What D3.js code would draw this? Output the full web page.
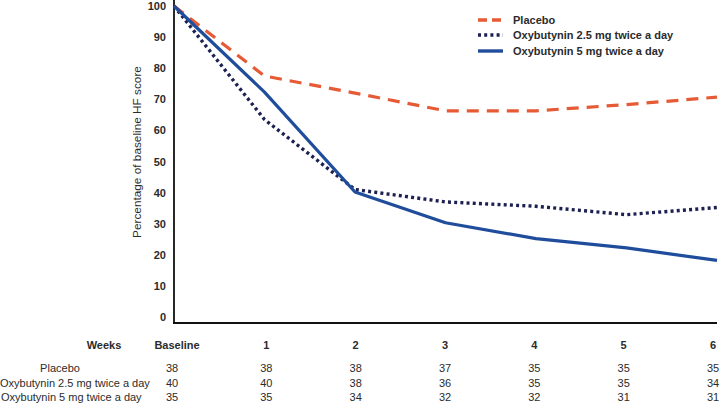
<!DOCTYPE html>
<html>
<head>
<meta charset="utf-8">
<script src="https://cdn.jsdelivr.net/npm/d3@7"></script>
<style>
  html, body { margin: 0; padding: 0; background: #fff; }
  svg { display: block; font-family: "Liberation Sans", Arial, sans-serif; }
</style>
</head>
<body>
<svg id="chart" width="720" height="403"></svg>
<script>
// ---- data ----
const weeks = ["Baseline", "1", "2", "3", "4", "5", "6"];
const seriesNames = ["Placebo", "Oxybutynin 2.5 mg twice a day", "Oxybutynin 5 mg twice a day"];
const placebo = [100, 77.5, 72, 66.3, 66.3, 68.3, 70.7];
const oxy25 = [100, 63.5, 41, 37, 35.6, 32.9, 35.2];
const oxy5 = [100, 72.3, 40.2, 30.3, 25.2, 22.2, 18.2];
const yTicks = [0, 10, 20, 30, 40, 50, 60, 70, 80, 90, 100];
const nPlacebo = [38, 38, 38, 37, 35, 35, 35];
const nOxy25 = [40, 40, 38, 36, 35, 35, 34];
const nOxy5 = [35, 35, 34, 32, 32, 31, 31];

// ---- drawing ----
const svg = d3.select("#chart");
const textColor = "#2b2b2b";
const colors = ["#e65b35", "#1d2152", "#1f4d9b"];
const dashes = ["12,8", "3,3.2", null];

const x = d3.scalePoint().domain(weeks).range([174, 717]);
const y = d3.scaleLinear().domain([0, 100]).range([317, 6]);

// y axis ticks
const yAxis = d3.axisLeft(y).tickValues(yTicks).tickSize(0).tickPadding(8);
const gy = svg.append("g").attr("transform", "translate(174,0)").call(yAxis);
gy.select(".domain").remove();
gy.selectAll("text")
  .attr("font-size", 11).attr("font-weight", "bold")
  .attr("fill", textColor).attr("font-family", "Liberation Sans, Arial, sans-serif");

// axis lines
svg.append("line").attr("x1", 174).attr("x2", 174).attr("y1", 0).attr("y2", 324)
  .attr("stroke", "#111").attr("stroke-width", 1.8);
svg.append("line").attr("x1", 173).attr("x2", 717).attr("y1", 323).attr("y2", 323)
  .attr("stroke", "#111").attr("stroke-width", 1.8);

// y label
svg.append("text")
  .attr("transform", "translate(141,152) rotate(-90)")
  .attr("text-anchor", "middle")
  .attr("font-size", 11.8).attr("fill", textColor)
  .text("Percentage of baseline HF score");

// lines
const lineGen = d3.line().x((d, i) => x(weeks[i])).y(d => y(d));
const allSeries = [placebo, oxy25, oxy5];
allSeries.forEach((s, k) => {
  svg.append("path")
    .datum(s)
    .attr("d", lineGen)
    .attr("fill", "none")
    .attr("stroke", colors[k])
    .attr("stroke-width", k === 1 ? 3.4 : 3.2)
    .attr("stroke-dasharray", dashes[k])
    .attr("stroke-linejoin", "round");
});

// legend
const legY = [20, 35, 51];
seriesNames.forEach((name, k) => {
  svg.append("line")
    .attr("x1", 478).attr("x2", 503).attr("y1", legY[k]).attr("y2", legY[k])
    .attr("stroke", colors[k]).attr("stroke-width", 3.4)
    .attr("stroke-dasharray", k === 0 ? "9,5" : dashes[k]);
  svg.append("text")
    .attr("x", 513).attr("y", legY[k]).attr("dy", "0.35em")
    .attr("font-size", 11).attr("font-weight", "bold").attr("fill", textColor)
    .text(name);
});

// table
const tx = d3.scalePoint().domain(weeks).range([177, 713]);
svg.append("text").attr("x", 104).attr("y", 345).attr("dy", "0.35em")
  .attr("text-anchor", "middle").attr("font-size", 11).attr("font-weight", "bold")
  .attr("fill", textColor).text("Weeks");
weeks.forEach(w => {
  svg.append("text").attr("x", tx(w)).attr("y", 345).attr("dy", "0.35em")
    .attr("text-anchor", "middle").attr("font-size", 11).attr("font-weight", "bold")
    .attr("fill", textColor).text(w);
});
const rowY = [368, 383, 397];
const rows = [nPlacebo, nOxy25, nOxy5];
svg.append("text").attr("x", 60).attr("y", rowY[0]).attr("dy", "0.35em")
  .attr("text-anchor", "middle").attr("font-size", 11).attr("fill", textColor).text(seriesNames[0]);
svg.append("text").attr("x", 0).attr("y", rowY[1]).attr("dy", "0.35em")
  .attr("font-size", 11).attr("fill", textColor).text(seriesNames[1]);
svg.append("text").attr("x", 1).attr("y", rowY[2]).attr("dy", "0.35em")
  .attr("font-size", 11).attr("fill", textColor).text(seriesNames[2]);
rows.forEach((r, k) => {
  r.forEach((v, i) => {
    const cx = i === 0 ? tx(weeks[i]) - 5 : tx(weeks[i]);
    svg.append("text").attr("x", cx).attr("y", rowY[k]).attr("dy", "0.35em")
      .attr("text-anchor", "middle").attr("font-size", 11).attr("fill", textColor)
      .text(v);
  });
});
</script>
</body>
</html>
